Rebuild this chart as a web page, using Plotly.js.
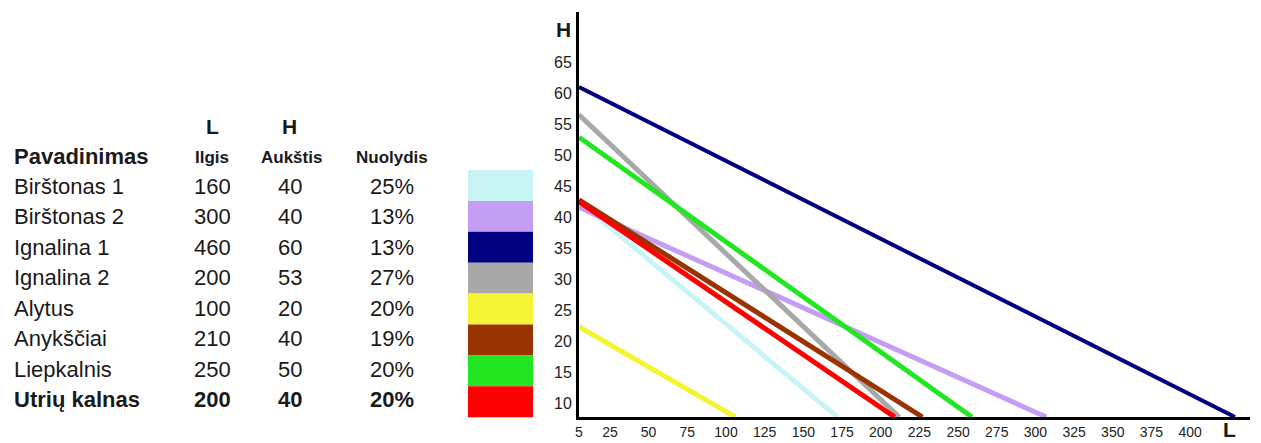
<!DOCTYPE html>
<html><head><meta charset="utf-8">
<script src="https://cdn.plot.ly/plotly-3.0.1.min.js"></script>
<style>html,body{margin:0;padding:0;background:#fff;}#chart{width:1261px;height:443px;}</style>
</head><body><div id="chart"></div>
<script>
// Table data
const names = ["Birštonas 1","Birštonas 2","Ignalina 1","Ignalina 2","Alytus","Anykščiai","Liepkalnis","Utrių kalnas"];
const lengths = [160,300,460,200,100,210,250,200];
const heights = [40,40,60,53,20,40,50,40];
const slopes = ["25%","13%","13%","27%","20%","19%","20%","20%"];
const colors = ["#c8f4f6","#c39ef2","#000080","#a8a8a8","#f4f435","#993300","#22e622","#ff0000"];
// Lines: height where each meets the H axis, length where it meets the L axis
const lineStartH = [42.5,41.6,61.0,56.5,22.3,42.8,52.9,42.5];
const lineEndL = [172,307,429,212,106,227,259,209];
const xTicks = [5,25,50,75,100,125,150,175,200,225,250,275,300,325,350,375,400];
const yTicks = [10,15,20,25,30,35,40,45,50,55,60,65];

const W=1261,H=443;
const xRange=[5,438.7], yRange=[7.74,73.1];
const px=x=>x/W, py=y=>1-y/H;

const traces = names.map((n,i)=>({
  type:'scatter',mode:'lines',name:n,
  x:[xRange[0],lineEndL[i]], y:[lineStartH[i],yRange[0]],
  line:{color:colors[i],width:i===2?4:5},
  hoverinfo:'skip',showlegend:false
}));

const F="Liberation Sans, Arial, sans-serif";
const ann=[];
function t(text,x,y,size,bold,xanchor){
  ann.push({xref:'paper',yref:'paper',x:px(x),y:py(y),text:bold?'<b>'+text+'</b>':text,
    showarrow:false,xanchor:xanchor||'center',yanchor:'middle',font:{family:F,size:size,color:'#1a1a1a'}});
}
t('L',212,127,21,true); t('H',289,127,21,true);
t('Pavadinimas',12,156,22,true,'left');
t('Ilgis',212,157,17,true); t('Aukštis',291,157,17,true); t('Nuolydis',392,157,17,true);
const shapes=[];
names.forEach((n,i)=>{
  const y=186+30.5*i, b=(i===names.length-1);
  t(n,12,y,22,b,'left');
  t(String(lengths[i]),212,y,22,b);
  t(String(heights[i]),290,y,22,b);
  t(slopes[i],392,y,22,b);
  shapes.push({type:'rect',xref:'paper',yref:'paper',x0:px(468),x1:px(533),
    y0:py(170+30.9*i),y1:py(170+30.9*(i+1)),fillcolor:colors[i],line:{width:0},layer:'above'});
});
// axis titles
t('H',563,29,21,true); t('L',1229,429,21,true);

const layout={
  width:W,height:H,margin:{l:0,r:0,t:0,b:0},paper_bgcolor:'#fff',plot_bgcolor:'#fff',
  xaxis:{domain:[579/W,1250/W],range:xRange,showgrid:false,zeroline:false,showline:true,linewidth:3,linecolor:'#000',
    tickvals:xTicks,ticks:'',tickfont:{family:F,size:14,color:'#222'},ticklabelstandoff:0},
  yaxis:{domain:[26/H,431/H],range:yRange,showgrid:false,zeroline:false,showline:true,linewidth:3,linecolor:'#000',
    tickvals:yTicks,ticks:'',tickfont:{family:F,size:16,color:'#222'},ticklabelstandoff:1},
  annotations:ann,shapes:shapes
};
Plotly.newPlot('chart',traces,layout,{staticPlot:true,displayModeBar:false});
</script></body></html>
